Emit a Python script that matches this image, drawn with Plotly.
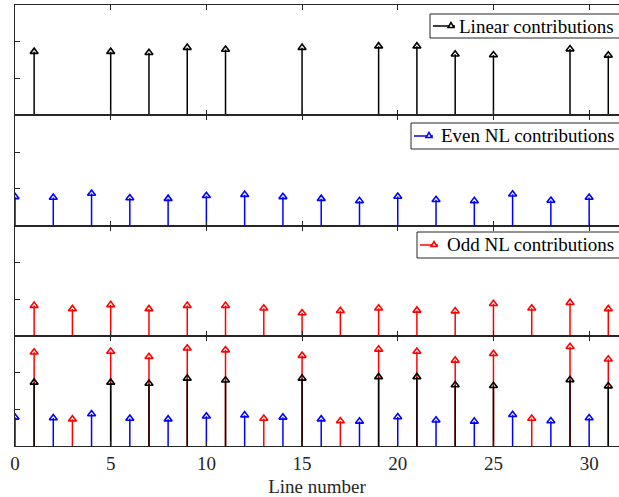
import plotly.graph_objects as go

# ---- data ----
linear_lines = [1, 5, 7, 9, 11, 15, 19, 21, 23, 25, 29, 31]
linear_vals = [1.73, 1.73, 1.70, 1.84, 1.79, 1.84, 1.88, 1.88, 1.66, 1.64, 1.80, 1.63]

even_lines = list(range(0, 31, 2))
even_vals = [0.78, 0.76, 0.87, 0.75, 0.73, 0.81, 0.84, 0.78, 0.73, 0.67, 0.79, 0.70, 0.67, 0.85, 0.68, 0.76]

odd_lines = list(range(1, 32, 2))
odd_vals = [0.82, 0.73, 0.84, 0.73, 0.82, 0.82, 0.75, 0.62, 0.68, 0.75, 0.69, 0.67, 0.87, 0.75, 0.90, 0.73]

x_ticks = [0, 5, 10, 15, 20, 25, 30]
x_label = "Line number"
names = ["Linear contributions", "Even NL contributions", "Odd NL contributions"]

BLACK, BLUE, RED = "#000000", "#0000FF", "#FF0000"
AX = "#262626"
FONT = "Liberation Serif"

W, H = 619, 497
ML, MR, MT, MB = 15, 0, 5, 51
PW, PH = W - ML - MR, H - MT - MB

lin_map = dict(zip(linear_lines, linear_vals))
total_odd = [v + lin_map.get(l, 0.0) for l, v in zip(odd_lines, odd_vals)]

fig = go.Figure()


def stems(xs, ys, color, xa, ya, lw=1.5):
    sx, sy = [], []
    for x, y in zip(xs, ys):
        sx += [x, x, None]
        sy += [0, y, None]
    fig.add_trace(go.Scatter(x=sx, y=sy, mode="lines", line=dict(color=color, width=lw),
                             xaxis=xa, yaxis=ya, showlegend=False, hoverinfo="skip"))
    fig.add_trace(go.Scatter(x=xs, y=ys, mode="markers",
                             marker=dict(symbol="triangle-up-open", size=7, color=color,
                                         line=dict(color=color, width=1.6)),
                             xaxis=xa, yaxis=ya, showlegend=False))


# panel 1: linear
stems(linear_lines, linear_vals, BLACK, "x", "y")
# panel 2: even
stems(even_lines, even_vals, BLUE, "x2", "y2")
# panel 3: odd
stems(odd_lines, odd_vals, RED, "x3", "y3")
# panel 4: combined
stems(odd_lines, total_odd, RED, "x4", "y4")
stems(linear_lines, linear_vals, BLACK, "x4", "y4")
stems(even_lines, even_vals, BLUE, "x4", "y4")

xr = [0, 31.56]
domains = [[0.75, 1.0], [0.5, 0.75], [0.25, 0.5], [0.0, 0.25]]

layout = dict(
    width=W, height=H,
    margin=dict(l=ML, r=MR, t=MT, b=MB),
    plot_bgcolor="white", paper_bgcolor="white",
    font=dict(family=FONT, size=16, color=AX),
    showlegend=False,
)
for i in range(4):
    sfx = "" if i == 0 else str(i + 1)
    layout["xaxis" + sfx] = dict(
        domain=[0, 1], range=xr, anchor="y" + sfx,
        tickvals=x_ticks, showticklabels=(i == 3),
        ticks="inside", ticklen=5, tickcolor=AX, tickwidth=1,
        showline=True, linecolor=AX, linewidth=1, mirror="ticks",
        showgrid=False, zeroline=False,
        tickfont=dict(family=FONT, size=19, color=AX),
        title=dict(text=x_label, font=dict(family=FONT, size=19, color=AX), standoff=7) if i == 3 else None,
    )
    layout["yaxis" + sfx] = dict(
        domain=domains[i], range=[0, 3], anchor="x" + sfx,
        tickvals=[0, 1, 2, 3], showticklabels=False,
        ticks="inside", ticklen=5, tickcolor=AX, tickwidth=1,
        showline=True, linecolor=AX, linewidth=1, mirror=False,
        showgrid=False, zeroline=False,
    )


# ---- legend boxes (drawn in paper coordinates, MATLAB-style) ----
def px(x):
    return (x - ML) / PW


def py(y):
    return (MT + PH - y) / PH


shapes, annotations = [], []
legend_specs = [
    # name, color, box_left, box_top, box_bottom, line_x0, line_x1
    (names[0], BLACK, 430, 14, 38, 433, 455),
    (names[1], BLUE, 411, 123, 149, 414, 433),
    (names[2], RED, 417, 232, 258, 420, 438),
]
TEXT_RIGHT = 615
for name, color, bl, bt, bb, lx0, lx1 in legend_specs:
    yc = (bt + bb) / 2
    shapes.append(dict(type="rect", xref="paper", yref="paper",
                       x0=px(bl), x1=px(W + 10), y0=py(bb), y1=py(bt),
                       fillcolor="white", line=dict(color=AX, width=1), layer="above"))
    shapes.append(dict(type="line", xref="paper", yref="paper",
                       x0=px(lx0), x1=px(lx1), y0=py(yc), y1=py(yc),
                       line=dict(color=color, width=1.5), layer="above"))
    tcx = lx1 - 4
    path = "M {} {} L {} {} L {} {} Z".format(
        px(tcx - 3), py(yc + 1.5), px(tcx + 3), py(yc + 1.5), px(tcx), py(yc - 3.5))
    shapes.append(dict(type="path", xref="paper", yref="paper", path=path,
                       line=dict(color=color, width=1.5), fillcolor="white", layer="above"))
    annotations.append(dict(xref="paper", yref="paper", x=px(TEXT_RIGHT), y=py(yc),
                            xanchor="right", yanchor="middle", showarrow=False,
                            text=name, font=dict(family=FONT, size=19, color="#000000"),
                            borderpad=0))

layout["shapes"] = shapes
layout["annotations"] = annotations

fig.update_layout(**layout)
fig.write_html("out.html")
